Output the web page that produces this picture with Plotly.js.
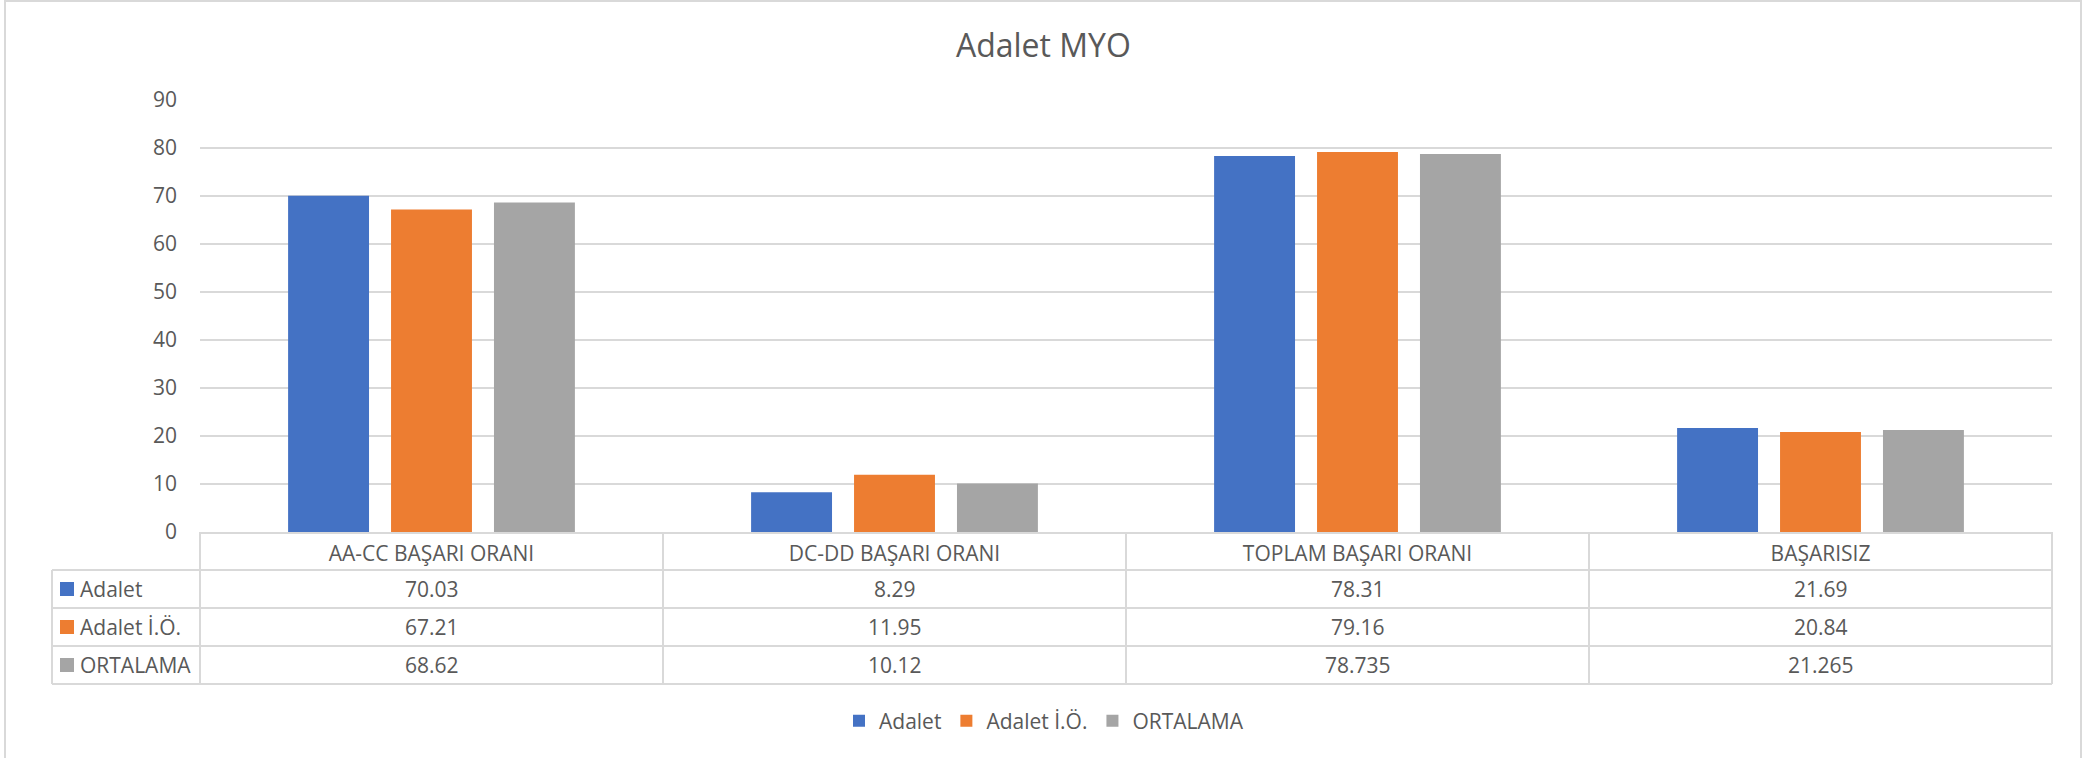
<!DOCTYPE html>
<html>
<head>
<meta charset="utf-8">
<script src="https://cdn.plot.ly/plotly-3.0.1.min.js"></script>
<style>
  html, body { margin: 0; padding: 0; background: #ffffff; }
  #chart { width: 2091px; height: 758px; }
</style>
</head>
<body>
<div id="chart"></div>
<script>
// ---- data ----
const categories = ['AA-CC BAŞARI ORANI', 'DC-DD BAŞARI ORANI', 'TOPLAM BAŞARI ORANI', 'BAŞARISIZ'];
const seriesNames = ['Adalet', 'Adalet İ.Ö.', 'ORTALAMA'];
const adalet = [70.03, 8.29, 78.31, 21.69];
const adaletIO = [67.21, 11.95, 79.16, 20.84];
const ortalama = [68.62, 10.12, 78.735, 21.265];
const yTickValues = [0, 10, 20, 30, 40, 50, 60, 70, 80, 90];
const chartTitle = 'Adalet MYO';

const seriesValues = [adalet, adaletIO, ortalama];
const seriesColors = ['#4472C4', '#ED7D31', '#A5A5A5'];

// ---- layout geometry (pixels) ----
const W = 2091, H = 758;
const plotL = 200, plotR = 2052, plotT = 100, plotB = 532;
const plotW = plotR - plotL, plotH = plotB - plotT;
const px = x => (x - plotL) / plotW;        // pixel x -> paper x
const py = y => (plotB - y) / plotH;        // pixel y -> paper y

const textColor = '#595959';
const lineColor = '#D9D9D9';
const fontFam = '"Open Sans", "Noto Sans", sans-serif';
const fs = 21;

// table rows (pixel boundaries)
const rowTop = [570, 608, 646];
const rowBot = [608, 646, 684];
const tableLeft = 52;

const traces = seriesNames.map((name, i) => ({
  type: 'bar',
  name: name,
  x: categories,
  y: seriesValues[i],
  marker: { color: seriesColors[i] },
  hoverinfo: 'x+y+name'
}));

const shapes = [];
const annotations = [];

// outer chart border
shapes.push({ type: 'rect', xref: 'paper', yref: 'paper',
  x0: px(5), x1: px(2081), y0: py(770), y1: py(1),
  line: { color: lineColor, width: 2 }, fillcolor: 'rgba(0,0,0,0)', layer: 'below' });

// table horizontal lines
[570, 608, 646, 684].forEach(y => {
  shapes.push({ type: 'line', xref: 'paper', yref: 'paper',
    x0: px(tableLeft), x1: px(plotR), y0: py(y), y1: py(y),
    line: { color: lineColor, width: 2 } });
});
// table vertical lines: left col edge, category boundaries
shapes.push({ type: 'line', xref: 'paper', yref: 'paper',
  x0: px(tableLeft), x1: px(tableLeft), y0: py(570), y1: py(684),
  line: { color: lineColor, width: 2 } });
for (let k = 0; k <= categories.length; k++) {
  const xx = plotL + k * plotW / categories.length;
  shapes.push({ type: 'line', xref: 'paper', yref: 'paper',
    x0: px(xx), x1: px(xx), y0: py(532), y1: py(684),
    line: { color: lineColor, width: 2 } });
}

// row labels with colour keys
seriesNames.forEach((name, i) => {
  const yc = (rowTop[i] + rowBot[i]) / 2;
  shapes.push({ type: 'rect', xref: 'paper', yref: 'paper',
    x0: px(60), x1: px(74), y0: py(yc + 7), y1: py(yc - 7),
    line: { width: 0 }, fillcolor: seriesColors[i] });
  annotations.push({ xref: 'paper', yref: 'paper', x: px(78), y: py(yc),
    xanchor: 'left', yanchor: 'middle', showarrow: false, text: name,
    font: { family: fontFam, size: fs, color: textColor } });
  categories.forEach((c, j) => {
    annotations.push({ xref: 'x', yref: 'paper', x: c, y: py(yc),
      xanchor: 'center', yanchor: 'middle', showarrow: false,
      text: String(seriesValues[i][j]),
      font: { family: fontFam, size: fs, color: textColor } });
  });
});

const layout = {
  width: W, height: H,
  paper_bgcolor: '#ffffff', plot_bgcolor: '#ffffff',
  margin: { l: plotL, r: W - plotR, t: plotT, b: H - plotB, pad: 0 },
  title: { text: chartTitle, x: 0.499, xanchor: 'center', y: 1 - 46 / H, yanchor: 'middle',
    yref: 'container', font: { family: fontFam, size: 32, color: textColor } },
  font: { family: fontFam, size: fs, color: textColor },
  barmode: 'group', bargap: 0.333, bargroupgap: 0.214,
  showlegend: true,
  legend: { orientation: 'h', x: px(1044), xanchor: 'center', y: py(721), yanchor: 'middle',
    font: { family: fontFam, size: fs, color: textColor }, itemwidth: 30, traceorder: 'normal' },
  xaxis: { type: 'category', showgrid: false, zeroline: false, showline: true,
    linecolor: lineColor, linewidth: 2, ticks: '', ticklabelstandoff: 2,
    tickfont: { family: fontFam, size: fs, color: textColor }, fixedrange: true },
  yaxis: { range: [0, 90], tickvals: yTickValues, showgrid: true, gridcolor: lineColor, gridwidth: 2,
    zeroline: false, showline: false, ticks: '', ticklabelstandoff: 22,
    tickfont: { family: fontFam, size: fs, color: textColor }, fixedrange: true },
  shapes: shapes,
  annotations: annotations
};

Plotly.newPlot('chart', traces, layout, { displayModeBar: false, staticPlot: true });
</script>
</body>
</html>
